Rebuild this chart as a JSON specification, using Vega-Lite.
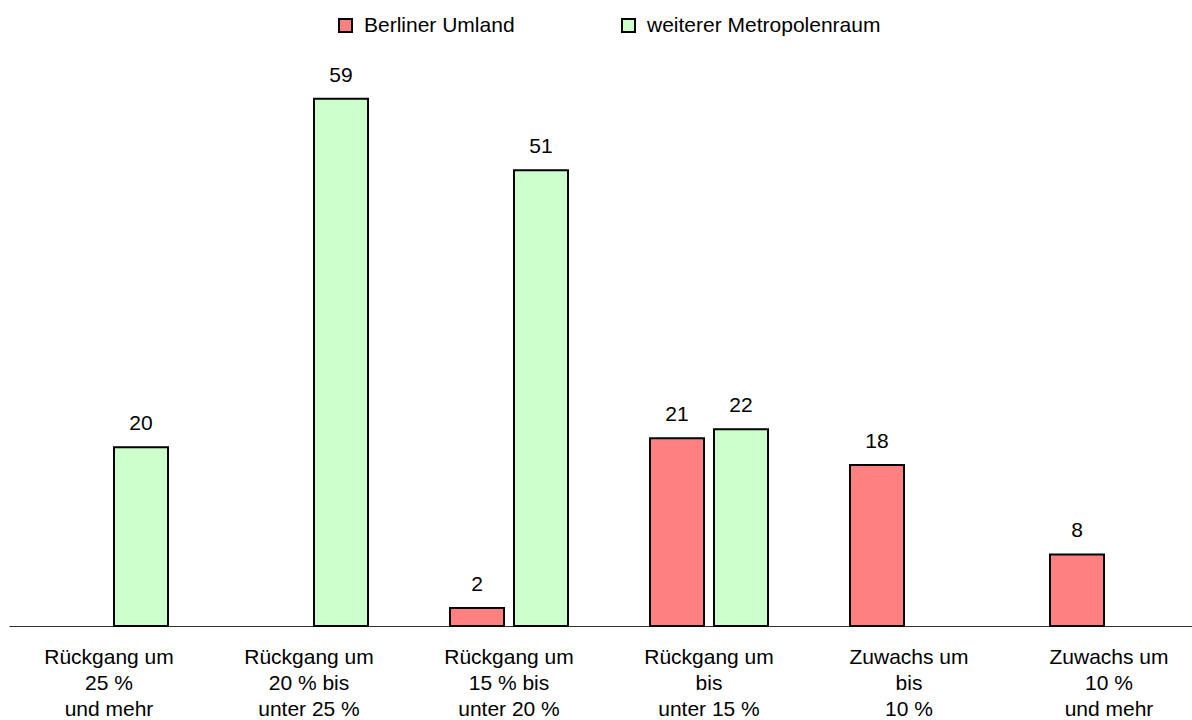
{
  "$schema": "https://vega.github.io/schema/vega-lite/v6.json",
  "autosize": {"type": "none"},
  "width": 1183,
  "height": 581,
  "padding": {"left": 9, "top": 45, "right": 0, "bottom": 94},
  "config": {
    "view": {"stroke": null},
    "font": "Liberation Sans"
  },
  "data": {
    "values": [
      {"kategorie": "Rückgang um|25 %|und mehr", "gebiet": "Berliner Umland", "anzahl": null},
      {"kategorie": "Rückgang um|25 %|und mehr", "gebiet": "weiterer Metropolenraum", "anzahl": 20},
      {"kategorie": "Rückgang um|20 % bis|unter 25 %", "gebiet": "weiterer Metropolenraum", "anzahl": 59},
      {"kategorie": "Rückgang um|15 % bis|unter 20 %", "gebiet": "Berliner Umland", "anzahl": 2},
      {"kategorie": "Rückgang um|15 % bis|unter 20 %", "gebiet": "weiterer Metropolenraum", "anzahl": 51},
      {"kategorie": "Rückgang um|bis|unter 15 %", "gebiet": "Berliner Umland", "anzahl": 21},
      {"kategorie": "Rückgang um|bis|unter 15 %", "gebiet": "weiterer Metropolenraum", "anzahl": 22},
      {"kategorie": "Zuwachs um|bis|10 %", "gebiet": "Berliner Umland", "anzahl": 18},
      {"kategorie": "Zuwachs um|10 %|und mehr", "gebiet": "Berliner Umland", "anzahl": 8}
    ]
  },
  "encoding": {
    "x": {
      "field": "kategorie",
      "type": "nominal",
      "sort": null,
      "scale": {"range": [0, 1200], "paddingInner": 0, "paddingOuter": 0},
      "axis": {
        "title": null,
        "labelAngle": 0,
        "labelExpr": "split(datum.value, '|')",
        "labelFontSize": 21,
        "labelLineHeight": 26,
        "labelColor": "#000000",
        "labelPadding": 20,
        "labelLimit": 0,
        "ticks": false,
        "domainColor": "#333333",
        "domainWidth": 1,
        "grid": false
      }
    },
    "xOffset": {
      "field": "gebiet",
      "type": "nominal",
      "scale": {"domain": ["Berliner Umland", "weiterer Metropolenraum"], "paddingInner": 0.15625, "paddingOuter": 0.640625}
    },
    "y": {
      "field": "anzahl",
      "type": "quantitative",
      "scale": {"domain": [0, 65], "nice": false},
      "axis": null
    }
  },
  "layer": [
    {
      "mark": {"type": "bar", "stroke": "#000000", "strokeWidth": 2},
      "encoding": {
        "color": {
          "field": "gebiet",
          "type": "nominal",
          "scale": {"domain": ["Berliner Umland", "weiterer Metropolenraum"], "range": ["#FF8080", "#CCFFCC"]},
          "legend": {
            "title": null,
            "orient": "none",
            "direction": "horizontal",
            "legendX": 326,
            "legendY": -30,
            "symbolType": "square",
            "symbolSize": 169,
            "symbolStrokeColor": "#000000",
            "symbolStrokeWidth": 2,
            "symbolOpacity": 1,
            "labelFontSize": 21,
            "labelColor": "#000000",
            "labelOffset": 8,
            "labelLimit": 0,
            "columnPadding": 103,
            "padding": 0
          }
        }
      }
    },
    {
      "mark": {"type": "text", "dy": -17, "baseline": "alphabetic", "fontSize": 21, "color": "#000000"},
      "encoding": {
        "text": {"field": "anzahl", "type": "quantitative"}
      }
    }
  ]
}
